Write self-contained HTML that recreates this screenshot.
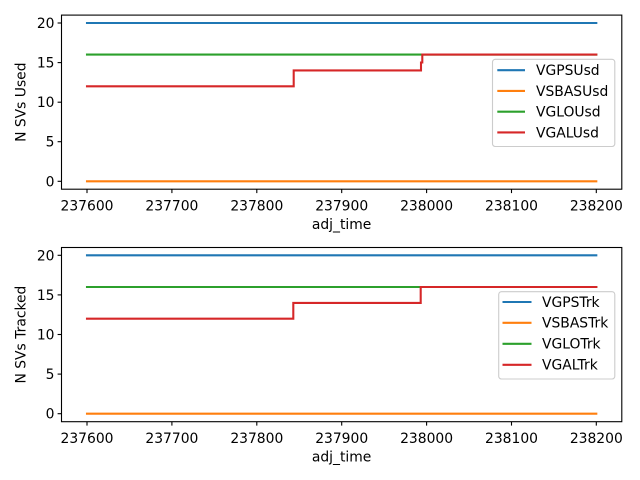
<!DOCTYPE html>
<html><head><meta charset="utf-8"><style>
html,body{margin:0;padding:0;background:#fff;}
svg{display:block;}
text{font-family:"DejaVu Sans","Liberation Sans",sans-serif;font-size:13.89px;fill:#000;}
</style></head><body>
<svg width="640" height="480" viewBox="0 0 640 480" xmlns="http://www.w3.org/2000/svg">
<rect width="640" height="480" fill="#fff"/>

<!-- ===== Top axes ===== -->
<g fill="none" stroke-width="2.08" stroke-linecap="square">
  <polyline points="87,23 596.3,23" stroke="#1f77b4"/>
  <polyline points="87,181.3 596.3,181.3" stroke="#ff7f0e"/>
  <polyline points="87,54.6 596.3,54.6" stroke="#2ca02c"/>
  <polyline points="87,86.3 293.7,86.3 293.7,70.4 421,70.4 421,62.5 422.3,62.5 422.3,54.6 596.3,54.6" stroke="#d62728"/>
</g>
<rect x="61.5" y="15.1" width="560.3" height="174.1" fill="none" stroke="#000" stroke-width="1.1"/>
<!-- x ticks -->
<g stroke="#000" stroke-width="1.1">
  <line x1="87" y1="189.2" x2="87" y2="193.1"/>
  <line x1="171.9" y1="189.2" x2="171.9" y2="193.1"/>
  <line x1="256.8" y1="189.2" x2="256.8" y2="193.1"/>
  <line x1="341.7" y1="189.2" x2="341.7" y2="193.1"/>
  <line x1="426.6" y1="189.2" x2="426.6" y2="193.1"/>
  <line x1="511.5" y1="189.2" x2="511.5" y2="193.1"/>
  <line x1="596.3" y1="189.2" x2="596.3" y2="193.1"/>
  <line x1="57.6" y1="23" x2="61.5" y2="23"/>
  <line x1="57.6" y1="62.6" x2="61.5" y2="62.6"/>
  <line x1="57.6" y1="102.2" x2="61.5" y2="102.2"/>
  <line x1="57.6" y1="141.7" x2="61.5" y2="141.7"/>
  <line x1="57.6" y1="181.3" x2="61.5" y2="181.3"/>
</g>
<g text-anchor="middle">
  <text x="87" y="210.5">237600</text>
  <text x="171.9" y="210.5">237700</text>
  <text x="256.8" y="210.5">237800</text>
  <text x="341.7" y="210.5">237900</text>
  <text x="426.6" y="210.5">238000</text>
  <text x="511.5" y="210.5">238100</text>
  <text x="596.3" y="210.5">238200</text>
  <text x="341.6" y="229">adj_time</text>
</g>
<g text-anchor="end">
  <text x="54.5" y="28">20</text>
  <text x="54.5" y="67.6">15</text>
  <text x="54.5" y="107.2">10</text>
  <text x="54.5" y="146.7">5</text>
  <text x="54.5" y="186.3">0</text>
</g>
<text transform="translate(25.5,102.2) rotate(-90)" text-anchor="middle">N SVs Used</text>
<!-- legend top -->
<rect x="492.5" y="59.3" width="122.3" height="87.2" rx="2.8" fill="#fff" fill-opacity="0.8" stroke="#cccccc" stroke-width="1.1"/>
<g stroke-width="2.08">
  <line x1="497.3" y1="70.2" x2="525" y2="70.2" stroke="#1f77b4"/>
  <line x1="497.3" y1="90.9" x2="525" y2="90.9" stroke="#ff7f0e"/>
  <line x1="497.3" y1="111.7" x2="525" y2="111.7" stroke="#2ca02c"/>
  <line x1="497.3" y1="132.4" x2="525" y2="132.4" stroke="#d62728"/>
</g>
<text x="536" y="75.1">VGPSUsd</text>
<text x="536" y="95.8">VSBASUsd</text>
<text x="536" y="116.6">VGLOUsd</text>
<text x="536" y="137.3">VGALUsd</text>

<!-- ===== Bottom axes ===== -->
<g fill="none" stroke-width="2.08" stroke-linecap="square">
  <polyline points="87,255.3 596.3,255.3" stroke="#1f77b4"/>
  <polyline points="87,413.7 596.3,413.7" stroke="#ff7f0e"/>
  <polyline points="87,287 596.3,287" stroke="#2ca02c"/>
  <polyline points="87,318.7 293.3,318.7 293.3,302.9 420.7,302.9 420.7,287 596.3,287" stroke="#d62728"/>
</g>
<rect x="61.5" y="247.5" width="560.3" height="174.2" fill="none" stroke="#000" stroke-width="1.1"/>
<g stroke="#000" stroke-width="1.1">
  <line x1="87" y1="421.7" x2="87" y2="425.6"/>
  <line x1="171.9" y1="421.7" x2="171.9" y2="425.6"/>
  <line x1="256.8" y1="421.7" x2="256.8" y2="425.6"/>
  <line x1="341.7" y1="421.7" x2="341.7" y2="425.6"/>
  <line x1="426.6" y1="421.7" x2="426.6" y2="425.6"/>
  <line x1="511.5" y1="421.7" x2="511.5" y2="425.6"/>
  <line x1="596.3" y1="421.7" x2="596.3" y2="425.6"/>
  <line x1="57.6" y1="255.3" x2="61.5" y2="255.3"/>
  <line x1="57.6" y1="294.9" x2="61.5" y2="294.9"/>
  <line x1="57.6" y1="334.5" x2="61.5" y2="334.5"/>
  <line x1="57.6" y1="374.1" x2="61.5" y2="374.1"/>
  <line x1="57.6" y1="413.7" x2="61.5" y2="413.7"/>
</g>
<g text-anchor="middle">
  <text x="87" y="443">237600</text>
  <text x="171.9" y="443">237700</text>
  <text x="256.8" y="443">237800</text>
  <text x="341.7" y="443">237900</text>
  <text x="426.6" y="443">238000</text>
  <text x="511.5" y="443">238100</text>
  <text x="596.3" y="443">238200</text>
  <text x="341.6" y="461.5">adj_time</text>
</g>
<g text-anchor="end">
  <text x="54.5" y="260.3">20</text>
  <text x="54.5" y="299.9">15</text>
  <text x="54.5" y="339.5">10</text>
  <text x="54.5" y="379.1">5</text>
  <text x="54.5" y="418.7">0</text>
</g>
<text transform="translate(25.5,334.6) rotate(-90)" text-anchor="middle">N SVs Tracked</text>
<!-- legend bottom -->
<rect x="498.7" y="291.7" width="116.1" height="87.3" rx="2.8" fill="#fff" fill-opacity="0.8" stroke="#cccccc" stroke-width="1.1"/>
<g stroke-width="2.08">
  <line x1="502.5" y1="302" x2="531.5" y2="302" stroke="#1f77b4"/>
  <line x1="502.5" y1="322.8" x2="531.5" y2="322.8" stroke="#ff7f0e"/>
  <line x1="502.5" y1="343.8" x2="531.5" y2="343.8" stroke="#2ca02c"/>
  <line x1="502.5" y1="364.8" x2="531.5" y2="364.8" stroke="#d62728"/>
</g>
<text x="542" y="306.9">VGPSTrk</text>
<text x="542" y="327.7">VSBASTrk</text>
<text x="542" y="348.7">VGLOTrk</text>
<text x="542" y="369.7">VGALTrk</text>
</svg>
</body></html>
